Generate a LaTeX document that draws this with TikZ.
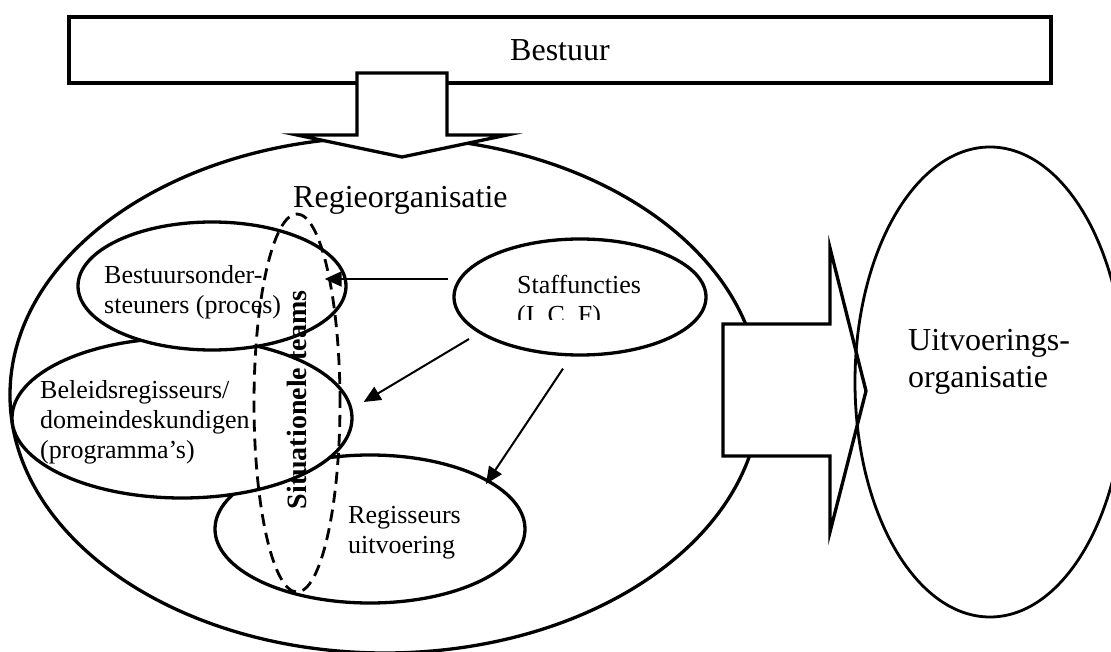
\documentclass[tikz,border=0pt]{standalone}
\usepackage{fontspec}
\setmainfont{Liberation Serif}
\usetikzlibrary{shapes.geometric, arrows.meta, calc}
\tikzset{
  oval/.style={draw, ellipse, line width=3.3pt, fill=white, inner sep=0pt},
  thinoval/.style={draw, ellipse, line width=2.8pt, inner sep=0pt},
  teamoval/.style={draw, ellipse, line width=2.8pt, dash pattern=on 12pt off 7pt, inner sep=0pt},
  arr/.style={line width=2pt, -{Triangle[length=17pt,width=15pt]}},
  lbl/.style={font=\fontsize{26}{30}\selectfont, align=left, anchor=west, inner sep=0pt},
  biglbl/.style={font=\fontsize{32}{37}\selectfont, align=left, anchor=west, inner sep=0pt},
  blockarrow/.style={draw, fill=white, line width=3.3pt, line join=miter}
}
\begin{document}
\begin{tikzpicture}[x=1pt,y=-1pt]
\useasboundingbox (0,0) rectangle (1111,652);
\clip (0,0) rectangle (1111,652);
% Bestuur
\node[draw, line width=4pt, fill=white, minimum width=982pt, minimum height=66pt, inner sep=0pt,
      font=\fontsize{32}{37}\selectfont] (bestuur) at (560,50) {Bestuur};
% Regieorganisatie
\node[oval, minimum width=750pt, minimum height=516pt] (regie) at (385,395) {};
% down block arrow
\draw[blockarrow] (357,73) -- (447,73) -- (447,135) -- (507,135) -- (402,157) -- (297,135) -- (357,135) -- cycle;
% right block arrow
\draw[blockarrow] (723,324) -- (830,324) -- (830,248) -- (866,391) -- (830,532) -- (830,456) -- (723,456) -- cycle;
% Uitvoeringsorganisatie
\node[thinoval, minimum width=270pt, minimum height=470pt] (uitv) at (990,382) {};
\node[biglbl] at (908,362) {Uitvoerings-\\organisatie};
% inner ovals
\node[oval, minimum width=310pt, minimum height=148pt] (reg) at (370,529) {};
\node[oval, minimum width=340pt, minimum height=160pt] (bel) at (182,418) {};
\node[oval, minimum width=268pt, minimum height=128pt] (bes) at (212,286) {};
\node[oval, minimum width=252pt, minimum height=116pt] (staff) at (580,297) {};
% texts
\node[biglbl] (regtitle) at (293,200) {Regieorganisatie};
\node[lbl] (bestxt) at (104,292) {Bestuursonder-\\steuners (proces)};
\node[lbl] (beltxt) at (40,422) {Beleidsregisseurs/\\domeindeskundigen\\(programma’s)};
\node[lbl] (regtxt) at (348,533) {Regisseurs\\uitvoering};
\begin{scope}
  \clip (450,240) rectangle (710,320);
  \node[lbl] (stafftxt) at (517,302) {Staffuncties\\(I, C, F)};
\end{scope}
% situational teams
\node[teamoval, minimum width=86pt, minimum height=378pt] (teams) at (297,403) {};
\node[font=\fontsize{28}{32}\selectfont\bfseries, rotate=90, inner sep=0pt] (teamtxt) at (297,400) {Situationele teams};
% connectors
\coordinate (s1) at ($(staff.west)+(-4,-18)$);
\coordinate (t1) at ($(bes.east)+(-23,-7)$);
\coordinate (s2) at ($(staff.center)+(-111,42)$);
\coordinate (t2) at ($(bel.east)+(10,-16)$);
\coordinate (s3) at ($(staff.south)+(-17,12)$);
\coordinate (t3) at ($(reg.center)+(116,-45)$);
\draw[arr] (s1) -- (t1);
\draw[arr] (s2) -- (t2);
\draw[arr] (s3) -- (t3);
\end{tikzpicture}
\end{document}
